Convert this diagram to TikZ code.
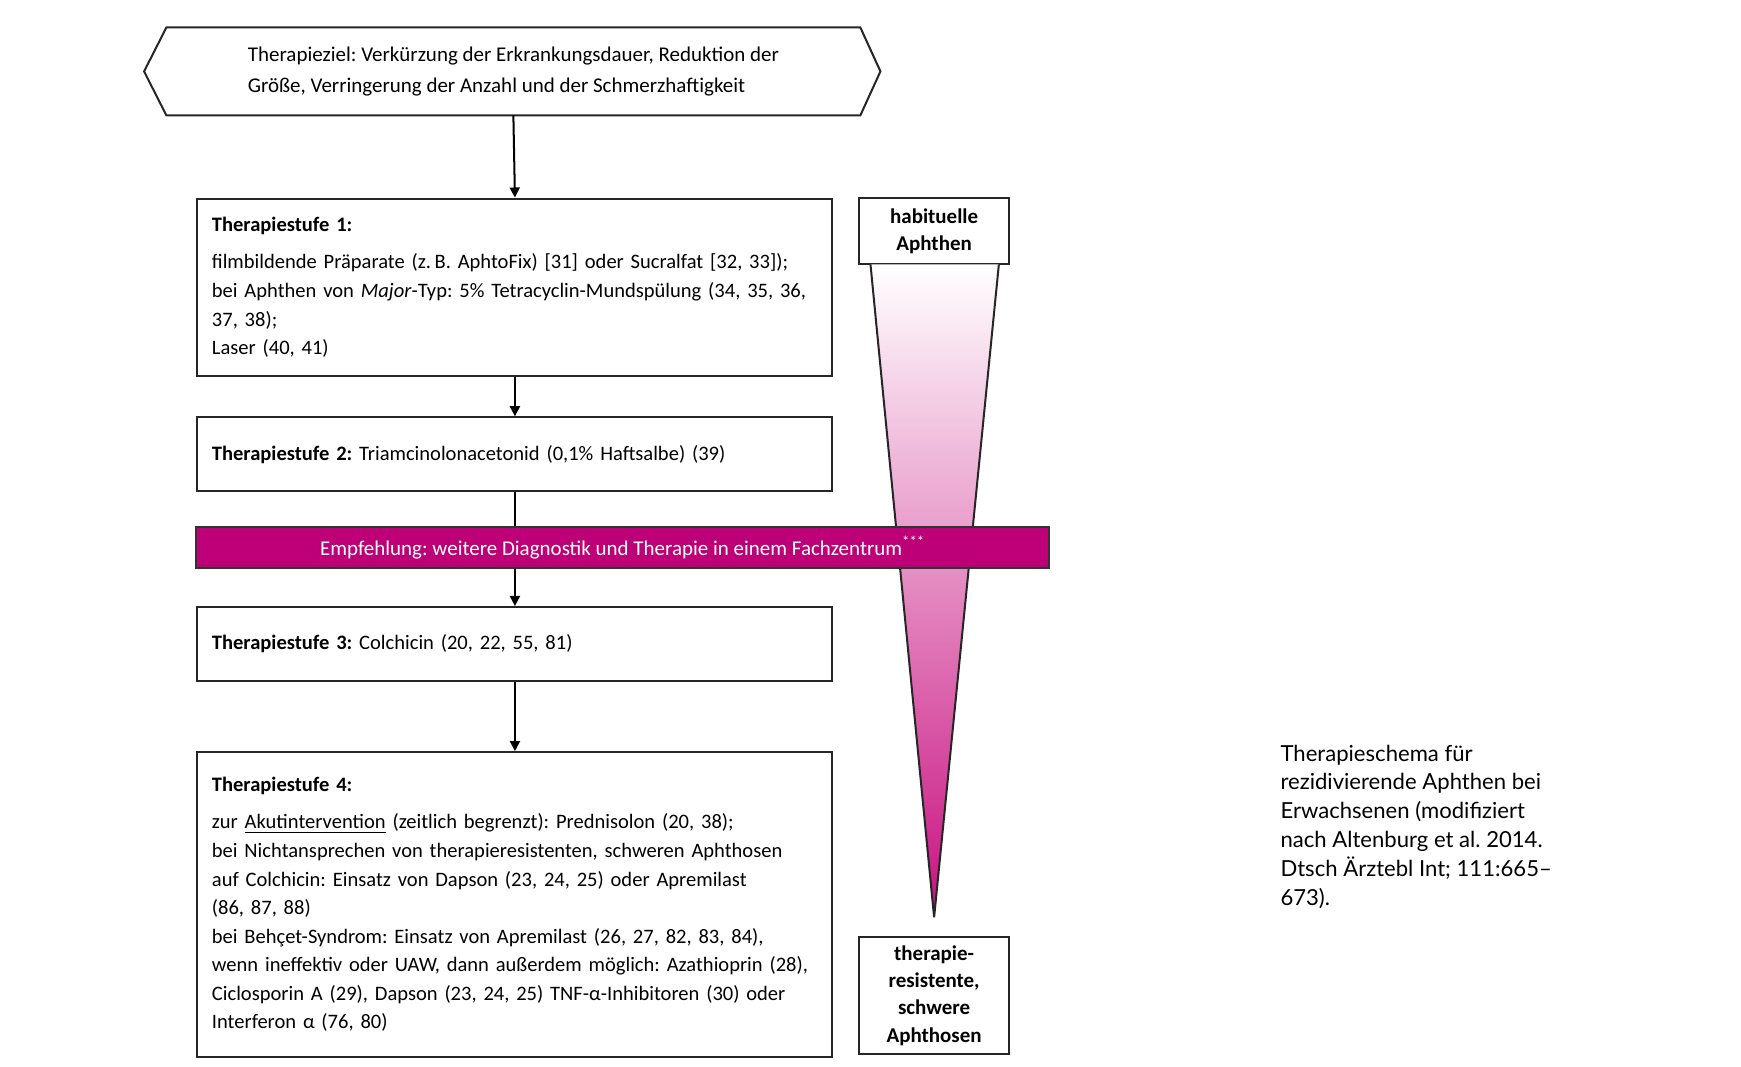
\documentclass[tikz,border=0pt]{standalone}
\usepackage{fontspec}
\setmainfont{Carlito}
\newfontfamily\capfont{Lato}
\usetikzlibrary{arrows.meta,positioning}
\frenchspacing

\definecolor{fachmagenta}{RGB}{190,0,120}
\definecolor{keilpink}{RGB}{200,16,128}
\tikzstyle{stufe} = [draw=black!85, line width=0.9pt, rectangle, anchor=north west, align=left, inner xsep=6.5pt, text width=271.5pt, font=\fontsize{9.2}{12.8}\selectfont]

\begin{document}
\begin{tikzpicture}[x=0.5pt,y=-0.5pt,
			pfeil/.style={line width=0.9pt,-{Triangle[length=4.5pt,width=4.5pt]}},
			linie/.style={line width=0.9pt},
			seite/.style={draw=black!85, line width=0.9pt, rectangle, align=center, minimum width=67pt, font=\fontsize{9.4}{12.2}\selectfont\bfseries},
			balken/.style={draw=black!80, line width=0.9pt, fill=fachmagenta, text=white, minimum width=382pt, minimum height=18.5pt, font=\fontsize{9.4}{12}\selectfont}]
			\useasboundingbox (0,0) rectangle (1560,956);
			% Ziel
			\node (ziel) [minimum width=310.5pt, minimum height=39pt, align=left, font=\fontsize{9.4}{14}\selectfont] at (460,64)
				{Therapieziel: Verkürzung der Erkrankungsdauer, Reduktion der\\
				 Größe, Verringerung der Anzahl und der Schmerzhaftigkeit};
			\draw [linie,black!85] (ziel.north west) -- (ziel.north east) -- ([xshift=9pt]ziel.east)
				-- (ziel.south east) -- (ziel.south west) -- ([xshift=-10pt]ziel.west) -- cycle;
			% Stufen
			\node (s1) [stufe, minimum height=79.5pt] at (176,177)
				{\textbf{Therapiestufe 1:}\\[4pt]
				 filmbildende Präparate (z.\,B. AphtoFix) [31] oder Sucralfat [32, 33]);\\
				 bei Aphthen von \textit{Major}-Typ: 5\% Tetracyclin-Mundspülung (34, 35, 36,\\
				 37, 38);\\
				 Laser (40, 41)};
			\node (s2) [stufe, minimum height=33pt] at (176,373)
				{\textbf{Therapiestufe 2:} Triamcinolonacetonid (0,1\% Haftsalbe) (39)};
			\node (s3) [stufe, minimum height=33pt] at (176,543)
				{\textbf{Therapiestufe 3:} Colchicin (20, 22, 55, 81)};
			\node (s4) [stufe, minimum height=136.5pt] at (176,673)
				{\textbf{Therapiestufe 4:}\\[4pt]
				 zur \underline{Akutintervention} (zeitlich begrenzt): Prednisolon (20, 38);\\
				 bei Nichtansprechen von therapieresistenten, schweren Aphthosen\\
				 auf Colchicin: Einsatz von Dapson (23, 24, 25) oder Apremilast\\
				 (86, 87, 88)\\
				 bei Behçet-Syndrom: Einsatz von Apremilast (26, 27, 82, 83, 84),\\
				 wenn ineffektiv oder UAW, dann außerdem möglich: Azathioprin (28),\\
				 Ciclosporin A (29), Dapson (23, 24, 25) TNF-α-Inhibitoren (30) oder\\
				 Interferon α (76, 80)};
			% Keil
			\node (hab) [seite, minimum height=30pt] at (837,207) {habituelle\\Aphthen};
			\node (res) [seite, minimum height=52pt] at (837,892) {therapie-\\resistente,\\schwere\\Aphthosen};
			\coordinate (kl) at (780,237);
			\coordinate (kr) at (895,237);
			\coordinate (spitze) at (837,822);
			\shade [top color=white, bottom color=keilpink] (kl) -- (kr) -- (spitze) -- cycle;
			\draw [linie,black!85] (kl) -- (spitze) -- (kr);
			\node (fach) [balken] at (558,490.5) {Empfehlung: weitere Diagnostik und Therapie in einem Fachzentrum\textsuperscript{***}};
			% Pfeile
			\draw [pfeil] (ziel.south) -- (s1.north);
			\draw [pfeil] (s1.south) -- (s2.north);
			\draw [linie] (s2.south) -- (s2.south |- fach.north);
			\draw [pfeil] (s3.north |- fach.south) -- (s3.north);
			\draw [pfeil] (s3.south) -- (s4.north);
			% Legende
			\node (text) [anchor=north west, inner sep=0pt, align=left, font=\capfont\fontsize{9.9}{12.9}\selectfont] at (1147,667)
				{Therapieschema für\\
				 rezidivierende Aphthen bei\\
				 Erwachsenen (modifiziert\\
				 nach Altenburg et al. 2014.\\
				 Dtsch Ärztebl Int; 111:665–\\
				 673).};
		\end{tikzpicture}
\end{document}
